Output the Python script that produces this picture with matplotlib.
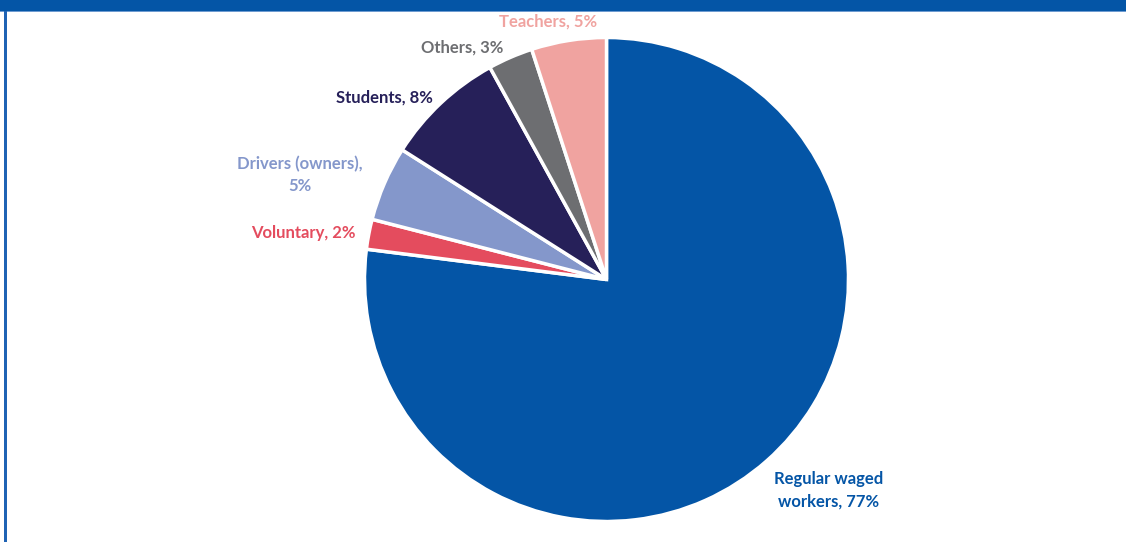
import matplotlib
matplotlib.use("Agg")
import matplotlib.pyplot as plt
from matplotlib.patches import Rectangle

# data
categories = ["Regular waged workers", "Voluntary", "Drivers (owners)", "Students", "Others", "Teachers"]
shares = [77, 2, 5, 8, 3, 5]
# how each label is broken into lines in the chart
label_text = ["Regular waged\nworkers, 77%", "Voluntary, 2%", "Drivers (owners),\n5%",
              "Students, 8%", "Others, 3%", "Teachers, 5%"]

colors = ["#0455A6", "#E44C5E", "#8497CB", "#262059", "#6D6E71", "#F0A3A0"]
label_pos = [(0.919, -0.870), (-1.254, 0.192), (-1.267, 0.432),
             (-0.919, 0.754), (-0.597, 0.960), (-0.242, 1.064)]

W, H = 1126, 542
fig = plt.figure(figsize=(W / 100, H / 100), dpi=100)
fig.patch.set_facecolor("white")

# frame: thick blue top band, thin left line
fig.add_artist(Rectangle((0, 1 - 11 / H), 1, 11 / H, transform=fig.transFigure,
                         facecolor="#0455A6", edgecolor="none"))
fig.add_artist(Rectangle((0, 1 - 12 / H), 1, 1 / H, transform=fig.transFigure,
                         facecolor="#6E9BD0", edgecolor="none"))
fig.add_artist(Rectangle((4 / W, 0), 2.6 / W, 1 - 11 / H, transform=fig.transFigure,
                         facecolor="#1F63B4", edgecolor="none"))

cx, cy, r = 606.5, 279.5, 242
ax = fig.add_axes([(cx - r) / W, (H - cy - r) / H, 2 * r / W, 2 * r / H])
ax.pie(shares, colors=colors, startangle=90, counterclock=False, radius=1,
       wedgeprops=dict(edgecolor="white", linewidth=2.5))
ax.set_xlim(-1, 1)
ax.set_ylim(-1, 1)
ax.set_aspect("equal")
ax.axis("off")

for txt, (x, y), c in zip(label_text, label_pos, colors):
    ax.text(x, y, txt, color=c, fontsize=12, fontweight="bold", family="Lato",
            ha="center", va="center", linespacing=1.5, clip_on=False)

fig.savefig("out.png", dpi=100, facecolor="white")
